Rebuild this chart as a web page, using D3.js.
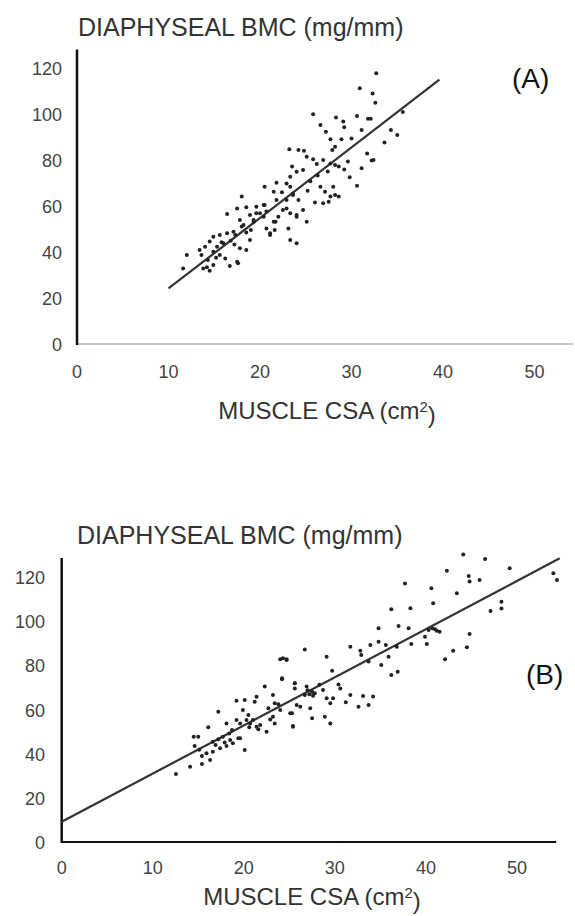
<!DOCTYPE html>
<html>
<head>
<meta charset="utf-8">
<script src="https://cdn.jsdelivr.net/npm/d3@7"></script>
<style>
  body { margin: 0; background: #fff; }
  svg text { font-family: "Liberation Sans", Arial, sans-serif; fill: #222; }
</style>
</head>
<body>
<div class="chart"></div>
<script>
// values
var xTicks = [0, 10, 20, 30, 40, 50];
var yTicks = [0, 20, 40, 60, 80, 100, 120];

var yLabel = "DIAPHYSEAL BMC (mg/mm)";
var xLabel = "MUSCLE CSA (cm";
var panelNames = ["(A)", "(B)"];

// panel A: [muscle CSA, BMC]
var pointsA = [
  [32.7,117.7],[30.9,111.2],[32.3,109],[32.6,105],[25.8,100],[28.3,98.6],[29.1,96.8],[29.2,94.3],
  [30.6,99.2],[31.8,98],[32.1,98],[35.6,101],[34.3,93.2],[35,91],[33.6,87.7],[26.6,95.3],
  [27.2,92.4],[27.7,89.1],[28.9,89.1],[30,89.5],[31.1,93.2],[28.2,85.9],[27.9,84.5],[23.2,84.8],
  [24.2,84.5],[24.8,84.2],[31.7,83],[32.2,79.9],[31.1,76.6],[29.8,72.7],[30.6,69],[25.1,81.6],
  [25.8,80.5],[26.2,78.4],[26.9,80.2],[27.7,78.7],[28.2,78],[28.6,77.3],[23.5,77.3],[24,75.1],
  [24.7,75.8],[23.3,72.9],[22.9,70],[21.8,70.3],[20.5,68.6],[21.5,66.4],[23.6,65],[24.2,62.8],
  [26.6,68.6],[27.1,66.4],[27.7,64.3],[28,68.6],[28.2,65],[27.5,62.1],[26.9,61.4],[28.6,64.3],
  [26,61.7],[25.1,53.4],[24.7,58.5],[22.9,59.2],[23.3,57.1],[24,56.3],[21.7,53.4],[23.1,50.5],
  [20.7,50.5],[21.1,48.4],[18,64.3],[17.5,59.2],[16.4,56.8],[19.6,59.9],[20,57.1],[18.9,56.3],
  [19.3,54.2],[17.8,54.2],[18.2,52],[20.4,60.7],[21.8,62.8],[18.5,59.7],[20.5,60.7],[19.6,57.1],
  [20.4,55.6],[19.3,53.4],[20.7,57.8],[18,51.3],[17.3,47.7],[18.5,48.7],[18.9,45.5],[17.8,41.9],
  [18.5,41.2],[17.5,36.1],[16.7,34.2],[17.6,35.4],[14.9,46.9],[15.6,47.7],[16.4,48.4],[17.1,49.1],
  [16,44.1],[15.3,42.6],[14.5,44.8],[14,42.6],[13.4,41.2],[14.9,40.4],[15.6,39],[14.3,36.8],
  [14.9,34.7],[14.2,33.7],[14.5,32.2],[13.8,33.2],[12,39],[11.6,33.2],[13.6,39],[21.5,53.4],
  [22,55.6],[22.5,58.5],[22.9,62.8],[23.6,65.7],[23.3,68.6],[24,55.6],[23.3,45.5],[24,44.1],
  [21.6,49.8],[21.1,47.7],[32.4,80.2],[16.8,45.2],[17.2,43.5],[15.8,44.5],[25.5,71],[26.3,73.5],
  [27.4,75.2],[29.2,76],[29.6,79.5],[22.4,66.2],[25.2,66.8],[19,49.8],[16.2,37.5],[15.2,37.8]
];

// panel B: [muscle CSA, BMC]
var pointsB = [
  [12.55,31.2],[14.1,34.4],[15.4,35.7],[16.3,37.5],[14.5,48],[15,48],[14.6,43.8],[16.1,52.2],
  [15.4,39.3],[15.9,40.5],[16.6,41.2],[17.4,42.8],[18.1,43.8],[16.6,45.7],[17.2,46.8],[17.7,48],
  [18.5,46.5],[18.8,45],[19.4,47.3],[20.1,42],[17.2,59.3],[18.1,54],[18.7,51],[19.2,55.5],
  [19.6,47.3],[19.2,64.2],[20.1,64.6],[21.2,63.8],[21.4,66],[19.9,60],[20.5,57.8],[21,55.5],
  [21.8,53.3],[22.5,50.2],[21.4,52.5],[20.7,54],[20.3,55.5],[19.6,54],[22.3,70.6],[23.2,66.8],
  [23.4,63.1],[22.7,60.8],[24,60],[23.2,57],[23.4,54],[24.3,83.4],[24.7,82.6],[24.2,73.9],
  [25.3,58.6],[25.4,52.8],[25.6,72.1],[25.8,62.3],
  [44.1,130.2],[46.5,128.2],[49.2,124],[54,121.8],[54.4,118.7],[42.3,122.9],[44.7,120.5],[44.8,118],
  [45.9,118.7],[37.7,117.2],[40.6,115],[40.8,108.2],[43.4,112.7],[48.3,108.9],[48.3,105.9],[47.1,104.7],
  [36.2,105.5],[38.3,106],[34.8,96.9],[37,98],[38.1,96.9],[40.3,96.2],[41,96.5],[41.5,95.4],
  [39.9,93.1],[44.8,94.4],[31.7,88.6],[32.8,86.8],[33.9,89.4],[34.8,90.9],[35.6,89.4],[36.8,88.6],
  [38.4,89.8],[40.1,89.8],[43,86.8],[44.5,88.4],[42.1,82.9],[26.7,87.4],[29.1,84.1],[32.9,84.9],
  [33.7,81.9],[35.1,80.4],[35.9,84.1],[36.2,75.8],[36.9,77.3],[24,82.9],[24.7,82.9],[29.7,77.8],
  [30.6,69.8],[31.7,66.8],[33.1,66.4],[33.7,62.3],[32.6,61.5],[29.5,63.1],[29.8,65.3],[24.2,74.4],
  [25.6,72.1],[25.6,69.8],[26.9,70.6],[27.5,68.3],[27.8,67.6],[28.7,69.1],[29.1,65.3],[25.1,58.6],
  [26.2,61.5],[27.3,60.8],[27.5,56.3],[28.9,57],[25.4,52.5],[29.5,54],[26.7,66.8],[27.2,67.2],
  [27.6,66.5],[27,68.9],[41.2,95.8],[40.7,96.9],[20.6,52.3],[21.6,51.4],[16.9,44.2],[17.9,45.4],
  [22.9,55.8],[23.8,62.6],[18.4,49.4],[15.1,42.1],[30.4,71.6],[28.3,71.4],[31.2,63.5],[34.2,66.1]
];

// fitted lines, two end points each
var fitA = [[10, 24.5], [39.6, 115]];
var fitB = [[0, 9.6], [54.7, 128.5]];

var width = 575, height = 916;

var svg = d3.select(".chart").append("svg")
    .attr("width", width)
    .attr("height", height);

var panels = [
  { name: panelNames[0], points: pointsA, fit: fitA,
    x: d3.scaleLinear().domain([0, 54.2]).range([77, 573]),
    y: d3.scaleLinear().domain([0, 128]).range([345, 49.6]),
    xAxisColor: "#c4c4c4", yLabelRight: 62,
    title: [78, 36], xTitle: [327, 419], xTickY: 378, nameAt: [512, 88] },
  { name: panelNames[1], points: pointsB, fit: fitB,
    x: d3.scaleLinear().domain([0, 54.3]).range([61.7, 556.1]),
    y: d3.scaleLinear().domain([0, 128.7]).range([843, 557.9]),
    xAxisColor: "#111", yLabelRight: 45,
    title: [77, 544], xTitle: [312, 905], xTickY: 874, nameAt: [526, 684] }
];

panels.forEach(function(p) {
  var g = svg.append("g");
  var x = p.x, y = p.y;
  var x0 = x.range()[0], x1 = x.range()[1];
  var y0 = y.range()[0], y1 = y.range()[1];

  // axis lines
  g.append("line")
      .attr("x1", x0).attr("x2", x1)
      .attr("y1", y0 - 1).attr("y2", y0 - 1)
      .attr("stroke", p.xAxisColor)
      .attr("stroke-width", 2);
  g.append("line")
      .attr("x1", x0).attr("x2", x0)
      .attr("y1", y1).attr("y2", y0)
      .attr("stroke", "#111")
      .attr("stroke-width", 2.5);

  // tick labels
  g.selectAll(".xt")
      .data(xTicks)
    .enter().append("text")
      .attr("class", "xt")
      .attr("x", function(d) { return x(d); })
      .attr("y", p.xTickY)
      .style("text-anchor", "middle")
      .style("font-size", "18px")
      .style("fill", "#444")
      .text(function(d) { return d; });

  g.selectAll(".yt")
      .data(yTicks)
    .enter().append("text")
      .attr("class", "yt")
      .attr("x", p.yLabelRight)
      .attr("y", function(d) { return y(d); })
      .attr("dy", "0.36em")
      .style("text-anchor", "end")
      .style("font-size", "18px")
      .style("fill", "#444")
      .text(function(d) { return d; });

  // titles
  g.append("text")
      .attr("x", p.title[0]).attr("y", p.title[1])
      .style("font-size", "25px")
      .style("fill", "#333")
      .text(yLabel);

  var xt = g.append("text")
      .attr("x", p.xTitle[0]).attr("y", p.xTitle[1])
      .style("text-anchor", "middle")
      .style("font-size", "24px")
      .style("fill", "#333")
      .text(xLabel);
  xt.append("tspan")
      .attr("dy", "-0.45em")
      .style("font-size", "15px")
      .text("2");
  xt.append("tspan")
      .attr("dy", "0.45em")
      .text(")");

  g.append("text")
      .attr("x", p.nameAt[0]).attr("y", p.nameAt[1])
      .style("font-size", "28px")
      .style("fill", "#111")
      .text(p.name);

  // fitted line
  var line = d3.line()
      .x(function(d) { return x(d[0]); })
      .y(function(d) { return y(d[1]); });
  g.append("path")
      .datum(p.fit)
      .attr("d", line)
      .attr("fill", "none")
      .attr("stroke", "#333")
      .attr("stroke-width", 2.2);

  // points
  g.selectAll(".pt")
      .data(p.points)
    .enter().append("circle")
      .attr("class", "pt")
      .attr("cx", function(d) { return x(d[0]); })
      .attr("cy", function(d) { return y(d[1]); })
      .attr("r", 2)
      .attr("fill", "#222");
});
</script>
</body>
</html>
